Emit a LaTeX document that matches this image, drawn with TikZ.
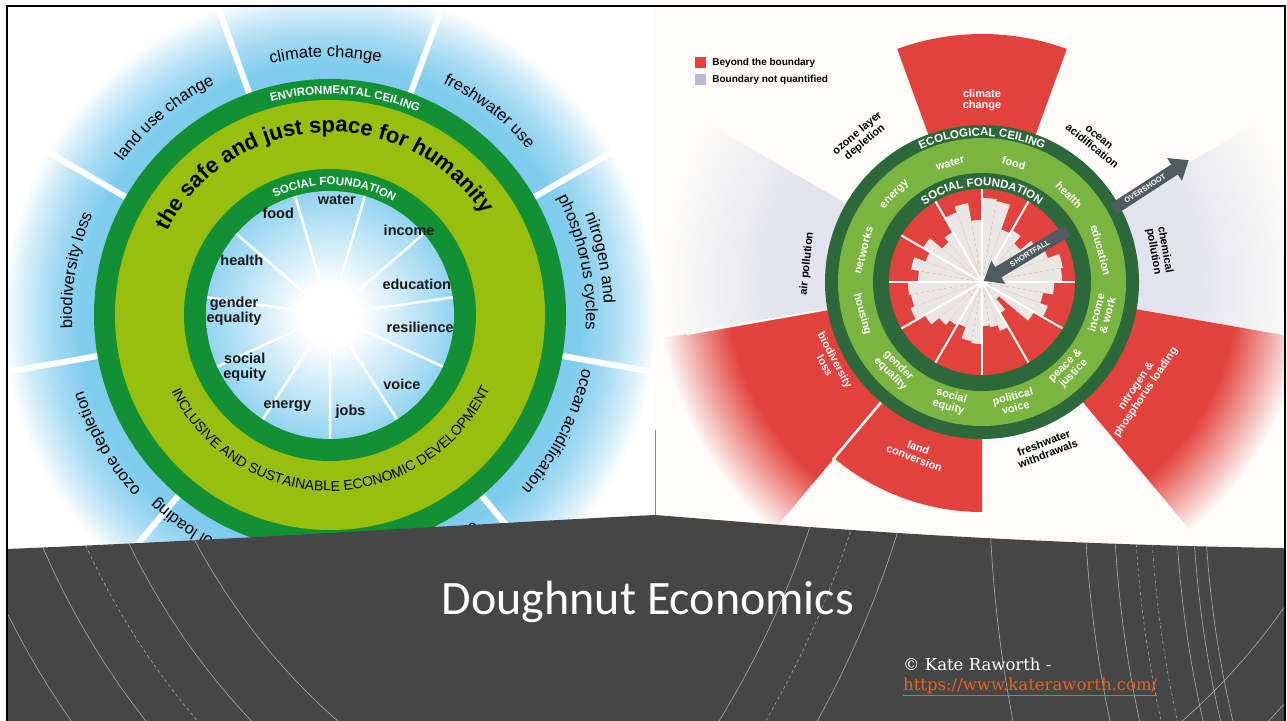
\documentclass[tikz,border=0pt]{standalone}
\usepackage{fontspec}
\setmainfont{Liberation Sans}
\newfontfamily\titlefont{Carlito}
\newfontfamily\slabfont{DejaVu Serif}
\usetikzlibrary{arrows.meta,calc,decorations.text,positioning}

\definecolor{ringdark}{RGB}{18,145,52}
\definecolor{ringlight}{RGB}{152,190,14}
\definecolor{glowblue}{RGB}{128,204,238}
\definecolor{ceildark}{RGB}{44,104,58}
\definecolor{ceillight}{RGB}{121,181,64}
\definecolor{overred}{RGB}{226,66,60}
\definecolor{shortgrey}{RGB}{233,230,227}
\definecolor{unqgrey}{RGB}{184,187,208}
\definecolor{arrowgrey}{RGB}{80,90,97}
\definecolor{paper}{RGB}{253,252,249}
\definecolor{bannergrey}{RGB}{70,70,70}
\definecolor{linkorange}{RGB}{234,98,30}

% radial shadings: the rim of the shaded circle falls at 25bp
\pgfdeclareradialshading{outerglow}{\pgfpoint{0bp}{0bp}}{color(0bp)=(glowblue); color(19bp)=(glowblue); color(21.3bp)=(glowblue!70); color(23.2bp)=(glowblue!35); color(24.8bp)=(white); color(50bp)=(white)}
\pgfdeclareradialshading{innerglow}{\pgfpoint{0bp}{0bp}}{color(0bp)=(white); color(6bp)=(white); color(25bp)=(glowblue!85); color(50bp)=(glowblue!85)}
\pgfdeclareradialshading{redfade}{\pgfpoint{0bp}{0bp}}{color(0bp)=(overred); color(18.5bp)=(overred); color(23.5bp)=(paper); color(50bp)=(paper)}
\pgfdeclareradialshading{greyfade}{\pgfpoint{0bp}{0bp}}{color(0bp)=(unqgrey!45); color(15bp)=(unqgrey!40); color(23bp)=(paper); color(50bp)=(paper)}

\begin{document}
\begin{tikzpicture}[x=1pt, y=1pt,
  sepline/.style={white, line width=6pt},
  spoke/.style={white, line width=2.5pt},
  ringtxt/.style={decorate, decoration={text along path, text align=center, text={#1}}},
  socl/.style={font=\bfseries\fontsize{14.5}{15}\selectfont, text=black!90, align=center, inner sep=0pt},
  bandl/.style={font=\bfseries\fontsize{11}{11.5}\selectfont, text=white, align=center, inner sep=0pt},
  bndl/.style={font=\bfseries\fontsize{11}{11.5}\selectfont, align=center, inner sep=0pt},
  bigarrow/.style={arrowgrey, line width=12pt, -{Triangle[length=17pt, width=26pt]}},
  arrowtxt/.style={font=\bfseries\fontsize{7.5}{7.5}\selectfont, text=white, sloped, inner sep=0pt},
  legsq/.style={minimum size=11pt, inner sep=0pt},
  legtxt/.style={font=\bfseries\fontsize{10}{10}\selectfont, inner sep=0pt, anchor=west},
  arcline/.style={white!55!bannergrey, line width=0.6pt}]
  \useasboundingbox (0,0) rectangle (1287,720);
  \fill[white] (0,0) rectangle (1287,720);

  % centres of the two doughnuts
  \coordinate (L) at (330,405);
  \coordinate (R) at (982,438);

  % the right picture sits on off-white paper
  \fill[paper] (655,0) rectangle (1285,714);

  %%% Left doughnut
  \begin{scope}
    \clip (7,0) rectangle (655,714);
    \shade[shading=outerglow] (L) circle (330);
    % white separators between the nine boundaries
    \foreach \ga in {70,110,...,390}
      \draw[sepline] ($(L)+(\ga:232)$) -- ($(L)+(\ga:340)$);
    \fill[ringdark] (L) circle (236);
    \fill[ringlight] (L) circle (215);
    \fill[ringdark] (L) circle (146);
    \shade[shading=innerglow] (L) circle (124);
    % eleven spokes of the social foundation
    \foreach \k in {0,...,10}
      \draw[spoke] (L) -- ++({106.36-\k*32.727}:124);

    % planetary boundaries round the outside
    \begin{scope}
      \fontsize{16.5}{16.5}\selectfont
      \path[ringtxt={climate change}] ($(L)+(126:258)$) arc[start angle=126, end angle=56, radius=258];
      \path[ringtxt={freshwater use}] ($(L)+(87:258)$) arc[start angle=87, end angle=17, radius=258];
      \path[ringtxt={land use change}] ($(L)+(165:258)$) arc[start angle=165, end angle=95, radius=258];
      \path[ringtxt={biodiversity loss}] ($(L)+(205:258)$) arc[start angle=205, end angle=135, radius=258];
      \path[ringtxt={ozone depletion}] ($(L)+(245:258)$) arc[start angle=245, end angle=175, radius=258];
      \path[ringtxt={atmospheric aerosol loading}] ($(L)+(292:252)$) arc[start angle=292, end angle=208, radius=252];
      \path[ringtxt={chemical pollution}] ($(L)+(325:252)$) arc[start angle=325, end angle=255, radius=252];
      \path[ringtxt={ocean acidification}] ($(L)+(368:258)$) arc[start angle=368, end angle=298, radius=258];
      \path[ringtxt={nitrogen and}] ($(L)+(47:274)$) arc[start angle=47, end angle=-23, radius=274];
      \path[ringtxt={phosphorus cycles}] ($(L)+(47:256)$) arc[start angle=47, end angle=-23, radius=256];
    \end{scope}

    % ring titles
    \begin{scope}
      \fontsize{22}{22}\bfseries\selectfont
      \path[ringtxt={the safe and just space for humanity}] ($(L)+(178:183)$) arc[start angle=178, end angle=8, radius=183];
    \end{scope}
    \begin{scope}
      \fontsize{11.5}{11.5}\bfseries\selectfont
      \path[ringtxt={ENVIRONMENTAL CEILING}, decoration={text color=white}] ($(L)+(126:221)$) arc[start angle=126, end angle=46, radius=221];
      \path[ringtxt={SOCIAL FOUNDATION}, decoration={text color=white}] ($(L)+(128:130)$) arc[start angle=128, end angle=48, radius=130];
    \end{scope}
    \begin{scope}
      \fontsize{14}{14}\selectfont
      \path[ringtxt={INCLUSIVE AND SUSTAINABLE ECONOMIC DEVELOPMENT}] ($(L)+(193:176)$) arc[start angle=193, end angle=348, radius=176];
    \end{scope}

    % social foundation labels
    \foreach \la/\lr/\ltx [count=\li] in {86.6/115/water, 117/114/food, 47/116/income,
        148/104/health, 19.4/92/education, 178/96/{gender\\equality}, -7.6/91/resilience,
        -148.5/100/{social\\equity}, -44/100/voice, -115/101/energy, -78/99/jobs}
      \node[socl] (lsoc-\li) at ($(L)+(\la:\lr)$) {\ltx};
  \end{scope}

  %%% Right doughnut
  \begin{scope}
    \clip (655,0) rectangle (1285,714);
    % fading wedges: not quantified (grey) and overshoot (red)
    \foreach \wa/\ws in {150/greyfade, -10/greyfade, -170/redfade, -50/redfade} {
      \begin{scope}
        \clip (R) -- ($(R)+(\wa:345)$) arc[start angle=\wa, end angle=\wa+40, radius=345] -- cycle;
        \shade[shading=\ws] (R) circle (345);
      \end{scope}
    }
    % solid overshoot wedges
    \fill[overred] (R) -- ($(R)+(70:248)$) arc[start angle=70, end angle=110, radius=248] -- cycle;
    \fill[overred] (R) -- ($(R)+(-130:230)$) arc[start angle=-130, end angle=-90, radius=230] -- cycle;
    \draw[white, line width=2.5pt] ($(R)+(-130:150)$) -- ($(R)+(-130:232)$);
    \draw[white, line width=2pt] ($(R)+(-170:150)$) -- ($(R)+(-170:300)$);

    % ceiling and foundation rings
    \fill[ceildark] (R) circle (157);
    \fill[ceillight] (R) circle (144);
    \fill[ceildark] (R) circle (109);
    \fill[overred] (R) circle (93);
    % shortfall bars, three per dimension
    \foreach \ba/\bl in {90/62,100/80,110/74,120/58,130/52,140/68,150/60,160/72,170/64,
        180/74,190/72,200/76,210/66,220/56,230/50,240/48,250/60,260/62,270/44,280/46,
        290/52,300/36,310/22,320/60,330/70,340/62,350/72,0/80,10/82,20/70,30/64,40/50,
        50/60,60/56,70/82,80/84}
      \fill[shortgrey] (R) -- ++(\ba:\bl) arc[start angle=\ba, end angle=\ba+10, radius=\bl] -- cycle;
    \foreach \ba in {0,30,...,330}
      \draw[spoke, line width=2pt] (R) -- ++(\ba:93);

    % ring titles
    \begin{scope}
      \fontsize{11.5}{11.5}\bfseries\selectfont
      \path[ringtxt={ECOLOGICAL CEILING}, decoration={text color=white}] ($(R)+(140:146)$) arc[start angle=140, end angle=40, radius=146];
      \path[ringtxt={SOCIAL FOUNDATION}, decoration={text color=white}] ($(R)+(150:96)$) arc[start angle=150, end angle=30, radius=96];
    \end{scope}

    % social foundation labels in the band
    \foreach \ba/\bt in {105/water, 75/food, 45/health, 15/education, 135/energy, 165/networks}
      \node[bandl, rotate=\ba-90] (band-\ba) at ($(R)+(\ba:123)$) {\bt};
    \foreach \ba/\bt in {-15/{income\\\& work}, -45/{peace \&\\justice}, -75/{political\\voice},
        -105/{social\\equity}, -135/{gender\\equality}, -165/housing}
      \node[bandl, rotate=\ba+90] (band-\ba) at ($(R)+(\ba:124)$) {\bt};

    % ecological ceiling labels
    \node[bndl, text=white] (clim) at ($(R)+(90:182)$) {climate\\change};
    \node[bndl, rotate=40] (ozone) at ($(R)+(130:188)$) {ozone layer\\depletion};
    \node[bndl, rotate=-39] (ocean) at ($(R)+(51:180)$) {ocean\\acidification};
    \node[bndl, rotate=-80] (chem) at ($(R)+(10:180)$) {chemical\\pollution};
    \node[bndl, rotate=84] (air) at ($(R)+(174:176)$) {air pollution};
    \node[bndl, text=white, rotate=56] (nitro) at ($(R)+(-34:192)$) {nitrogen \&\\phosphorus loading};
    \node[bndl, rotate=21] (fresh) at ($(R)+(-69:178)$) {freshwater\\withdrawals};
    \node[bndl, text=white, rotate=-21] (land) at ($(R)+(-111:183)$) {land\\conversion};
    \node[bndl, text=white, rotate=-62] (biod) at ($(R)+(-152:172)$) {biodiversity\\loss};

    % overshoot and shortfall arrows
    \coordinate (over-tail) at ($(R)+(29:150)$);
    \coordinate (over-tip) at ($(R)+(30.5:240)$);
    \draw[bigarrow] (over-tail) -- (over-tip) node[arrowtxt, pos=0.42] (over-label) {OVERSHOOT};
    \coordinate (short-tail) at ($(R)+(31:100)$);
    \coordinate (short-tip) at ($(R)+(31:2)$);
    \draw[bigarrow] (short-tail) -- (short-tip) node[arrowtxt, pos=0.45] (short-label) {SHORTFALL};

    % legend
    \node[legsq, fill=overred] (leg-red) at (700.5,657) {};
    \node[legtxt, right=6pt of leg-red] (leg-red-txt) {Beyond the boundary};
    \node[legsq, fill=unqgrey] (leg-grey) at (700.5,640) {};
    \node[legtxt, right=6pt of leg-grey] (leg-grey-txt) {Boundary not quantified};
  \end{scope}

  % edge of the left picture
  \coordinate (edge-top) at (655,290);
  \coordinate (edge-bot) at (655,205);
  \draw[black!45, line width=0.8pt] (edge-top) -- (edge-bot);

  %%% Title banner
  \fill[bannergrey] (7,171) .. controls (250,181) and (470,196) .. (655,205)
    .. controls (780,195) and (1000,176) .. (1285,172) -- (1285,-1) -- (7,-1) -- cycle;
  \begin{scope}
    \clip (7,171) .. controls (250,181) and (470,196) .. (655,205)
      .. controls (780,195) and (1000,176) .. (1285,172) -- (1285,-1) -- (7,-1) -- cycle;
    \coordinate (arcA) at (760,480);
    \foreach \cr in {640,700,780,840}
      \draw[arcline] (arcA) circle (\cr);
    \draw[arcline, dashed] (arcA) circle (740);
    \coordinate (arcB) at (-100,500);
    \draw[arcline] (arcB) circle (960);
    \draw[arcline, dashed] (arcB) circle (1000);
    \draw[arcline] (arcB) circle (1045);
    \coordinate (arcC) at (2300,250);
    \foreach \cr in {1311,1216,1187,1125,1108,1096}
      \draw[arcline] (arcC) circle (\cr);
    \draw[arcline, dashed] (arcC) circle (1166);
    \draw[arcline, dash dot] (arcC) circle (1150);
  \end{scope}

  \node[font=\titlefont\fontsize{48}{48}\selectfont, text=white] (title) at (648,118) {Doughnut Economics};
  \node[font=\slabfont\fontsize{16.5}{16.5}\selectfont, text=white, inner sep=0pt, anchor=west] (credit) at (903,56) {\textcopyright\ Kate Raworth -};
  \node[font=\slabfont\fontsize{16.5}{16.5}\selectfont, text=linkorange, inner sep=0pt, below=7pt of credit.south west, anchor=north west] (link) {\underline{https://www.kateraworth.com/}};

  % slide frame
  \draw[black, line width=2pt] (7,-3) rectangle (1285,714);
\end{tikzpicture}
\end{document}
